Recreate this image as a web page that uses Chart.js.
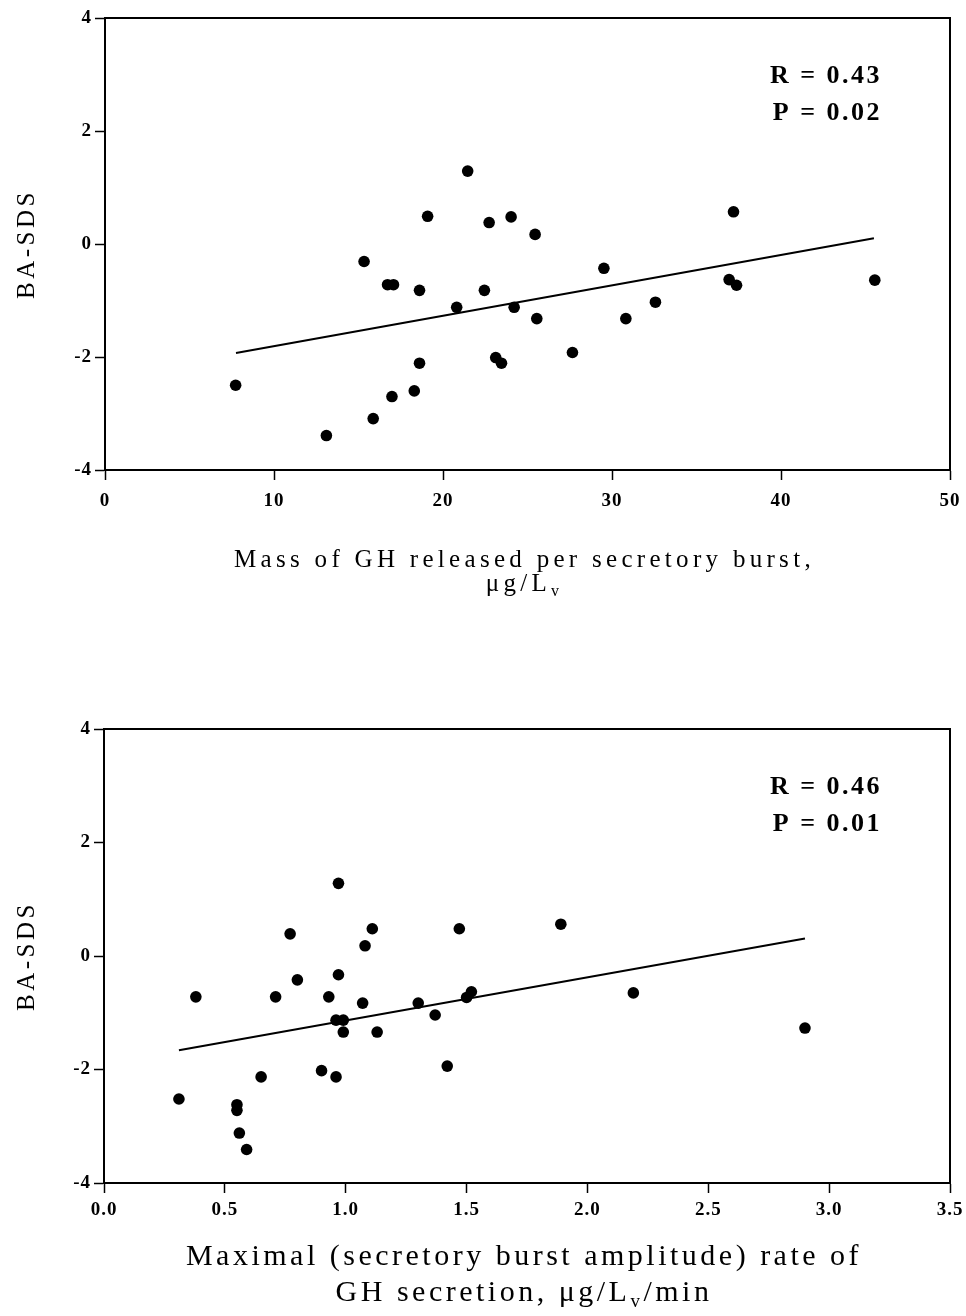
<!DOCTYPE html>
<html>
<head>
<meta charset="utf-8">
<title>BA-SDS vs GH secretion</title>
<script src="https://cdn.jsdelivr.net/npm/chart.js@4.4.1/dist/chart.umd.min.js"></script>
<style>
  html, body { margin: 0; padding: 0; background: #fff; }
  #wrap { position: relative; width: 966px; height: 1316px; }
  .panel { position: absolute; left: 0; width: 966px; }
  #panel-mass { top: 0; height: 620px; }
  #panel-rate { top: 620px; height: 696px; }
</style>
</head>
<body>
<div id="wrap">
  <div class="panel" id="panel-mass"><canvas id="chart-mass"></canvas></div>
  <div class="panel" id="panel-rate"><canvas id="chart-rate"></canvas></div>
</div>
<script>
// values

const baTicks = [-4, -2, 0, 2, 4];

// top panel: mass of GH per burst vs BA-SDS
const massTicks = [0, 10, 20, 30, 40, 50];
const massX = [21.46, 19.09, 22.73, 24.03, 25.45, 15.33, 16.72, 17.07, 18.61, 22.45,
  20.81, 24.21, 25.55, 23.12, 23.46, 18.61, 7.73, 18.30, 16.98, 15.87,
  13.10, 37.19, 29.52, 36.93, 37.37, 45.55, 32.57, 30.82, 27.66];
const massY = [1.29, 0.49, 0.38, 0.48, 0.17, -0.31, -0.72, -0.72, -0.82, -0.82,
  -1.12, -1.12, -1.32, -2.01, -2.11, -2.11, -2.50, -2.60, -2.70, -3.09,
  -3.39, 0.57, -0.43, -0.63, -0.73, -0.64, -1.03, -1.32, -1.92];
const massFitX = [7.75, 45.5];
const massFitY = [-1.93, 0.10];
const massStats = ["R = 0.43", "P = 0.02"];

// bottom panel: maximal secretion rate vs BA-SDS
const rateTicks = [0.0, 0.5, 1.0, 1.5, 2.0, 2.5, 3.0, 3.5];
const rateX = [0.97, 0.77, 1.11, 1.08, 1.47, 0.97, 0.80, 0.38, 0.71, 0.93,
  1.07, 1.30, 1.52, 1.50, 0.96, 0.99, 0.99, 1.13, 1.37, 1.42,
  0.90, 0.96, 0.65, 0.31, 0.55, 0.55, 0.56, 0.59, 1.89, 2.19, 2.90];
const rateY = [1.28, 0.39, 0.48, 0.18, 0.48, -0.33, -0.42, -0.72, -0.72, -0.72,
  -0.83, -0.83, -0.63, -0.73, -1.13, -1.13, -1.34, -1.34, -1.04, -1.94,
  -2.02, -2.13, -2.13, -2.52, -2.62, -2.72, -3.12, -3.41, 0.56, -0.65, -1.27];
const rateFitX = [0.31, 2.90];
const rateFitY = [-1.66, 0.31];
const rateStats = ["R = 0.46", "P = 0.01"];

const SERIF = '"Liberation Serif", "DejaVu Serif", "Times New Roman", serif';

function toPoints(xs, ys) {
  return xs.map((x, i) => ({ x, y: ys[i] }));
}

// draws a line of text made of parts, some of them subscripted, centred on cx
function drawRich(ctx, parts, cx, baseline, size, spacing) {
  const fontFor = (p) => `${p.sub ? Math.round(size * 0.62) : size}px ${SERIF}`;
  ctx.letterSpacing = spacing + "px";
  let total = 0;
  parts.forEach((p) => {
    ctx.font = fontFor(p);
    total += ctx.measureText(p.t).width;
  });
  let x = cx - total / 2;
  ctx.textAlign = "left";
  ctx.textBaseline = "alphabetic";
  parts.forEach((p) => {
    ctx.font = fontFor(p);
    ctx.fillText(p.t, x, baseline + (p.sub ? size * 0.2 : 0));
    x += ctx.measureText(p.t).width;
  });
}

const figurePlugin = {
  id: "figureText",
  beforeDraw(chart) {
    chart.ctx.letterSpacing = "1px";
  },
  afterDraw(chart) {
    const cfg = chart.options.plugins.figureText;
    const { ctx, chartArea: a } = chart;
    ctx.save();
    ctx.fillStyle = "#000";
    ctx.strokeStyle = "#000";

    // frame around the plot
    ctx.lineWidth = 2;
    ctx.strokeRect(a.left, a.top, a.right - a.left, a.bottom - a.top);

    // y title
    ctx.save();
    ctx.translate(25, (a.top + a.bottom) / 2);
    ctx.rotate(-Math.PI / 2);
    drawRich(ctx, [{ t: "BA-SDS" }], 0, 9, 25, 3.5);
    ctx.restore();

    // x title lines
    const cx = (a.left + a.right) / 2 - 3;
    cfg.xTitle.forEach((line, i) => {
      drawRich(ctx, line, cx, a.bottom + cfg.titleBase[i], cfg.titleSize, cfg.titleSpacing);
    });

    // correlation text
    ctx.letterSpacing = "2.5px";
    ctx.font = `bold 26px ${SERIF}`;
    ctx.textAlign = "right";
    ctx.textBaseline = "alphabetic";
    cfg.stats.forEach((s, i) => {
      ctx.fillText(s, a.right - 68, a.top + 65 + i * 37);
    });
    ctx.restore();
    ctx.letterSpacing = "0px";
  },
};

function makeChart(canvasId, opts) {
  const ctx = document.getElementById(canvasId);
  const tickFont = { family: SERIF, size: 19, weight: "bold" };
  return new Chart(ctx, {
    type: "scatter",
    data: {
      datasets: [
        {
          label: "subjects",
          data: toPoints(opts.xs, opts.ys),
          backgroundColor: "#000",
          borderWidth: 0,
          pointRadius: 5.8,
          pointHoverRadius: 5.8,
        },
        {
          label: "fit",
          data: toPoints(opts.fitX, opts.fitY),
          showLine: true,
          borderColor: "#000",
          borderWidth: 2,
          pointRadius: 0,
          fill: false,
        },
      ],
    },
    options: {
      responsive: true,
      maintainAspectRatio: false,
      animation: false,
      layout: {
        padding: { top: opts.padTop, right: 16, bottom: 0, left: 0 },
      },
      scales: {
        x: {
          type: "linear",
          min: opts.xTicks[0],
          max: opts.xTicks[opts.xTicks.length - 1],
          afterBuildTicks: (scale) => {
            scale.ticks = opts.xTicks.map((v) => ({ value: v }));
          },
          afterFit: (scale) => {
            scale.height = opts.xAxisHeight;
            scale.paddingLeft = 0;
            scale.paddingRight = 0;
          },
          ticks: {
            color: "#000",
            font: tickFont,
            padding: opts.xTickPad,
            maxRotation: 0,
            callback: opts.xFormat,
          },
          grid: {
            display: true,
            drawOnChartArea: false,
            drawTicks: true,
            tickLength: 10,
            tickColor: "#000",
            tickWidth: 1.5,
          },
          border: { display: true, color: "#000", width: 2 },
        },
        y: {
          type: "linear",
          min: baTicks[0],
          max: baTicks[baTicks.length - 1],
          afterBuildTicks: (scale) => {
            scale.ticks = baTicks.map((v) => ({ value: v }));
          },
          afterFit: (scale) => {
            scale.width = opts.yAxisWidth;
            scale.paddingTop = 0;
            scale.paddingBottom = 0;
          },
          ticks: {
            color: "#000",
            font: tickFont,
            padding: 3,
            callback: (v) => String(v),
          },
          grid: {
            display: true,
            drawOnChartArea: false,
            drawTicks: true,
            tickLength: 10,
            tickColor: "#000",
            tickWidth: 1.5,
          },
          border: { display: true, color: "#000", width: 2 },
        },
      },
      plugins: {
        legend: { display: false },
        tooltip: { enabled: false },
        figureText: {
          xTitle: opts.xTitle,
          titleBase: opts.titleBase,
          titleSize: opts.titleSize,
          titleSpacing: opts.titleSpacing,
          stats: opts.stats,
        },
      },
    },
    plugins: [figurePlugin],
  });
}

makeChart("chart-mass", {
  xs: massX,
  ys: massY,
  fitX: massFitX,
  fitY: massFitY,
  xTicks: massTicks,
  xFormat: (v) => String(v),
  stats: massStats,
  padTop: 18,
  xAxisHeight: 150,
  yAxisWidth: 105,
  xTickPad: 10,
  xTitle: [
    [{ t: "Mass of GH released per secretory burst," }],
    [{ t: "μg/L" }, { t: "v", sub: true }],
  ],
  titleBase: [97, 121],
  titleSize: 25,
  titleSpacing: 4.3,
});

makeChart("chart-rate", {
  xs: rateX,
  ys: rateY,
  fitX: rateFitX,
  fitY: rateFitY,
  xTicks: rateTicks,
  xFormat: (v) => Number(v).toFixed(1),
  stats: rateStats,
  padTop: 109,
  xAxisHeight: 133,
  yAxisWidth: 104,
  xTickPad: 6,
  xTitle: [
    [{ t: "Maximal (secretory burst amplitude) rate of" }],
    [{ t: "GH secretion, μg/L" }, { t: "v", sub: true }, { t: "/min" }],
  ],
  titleBase: [82, 118],
  titleSize: 30,
  titleSpacing: 3.5,
});
</script>
</body>
</html>
